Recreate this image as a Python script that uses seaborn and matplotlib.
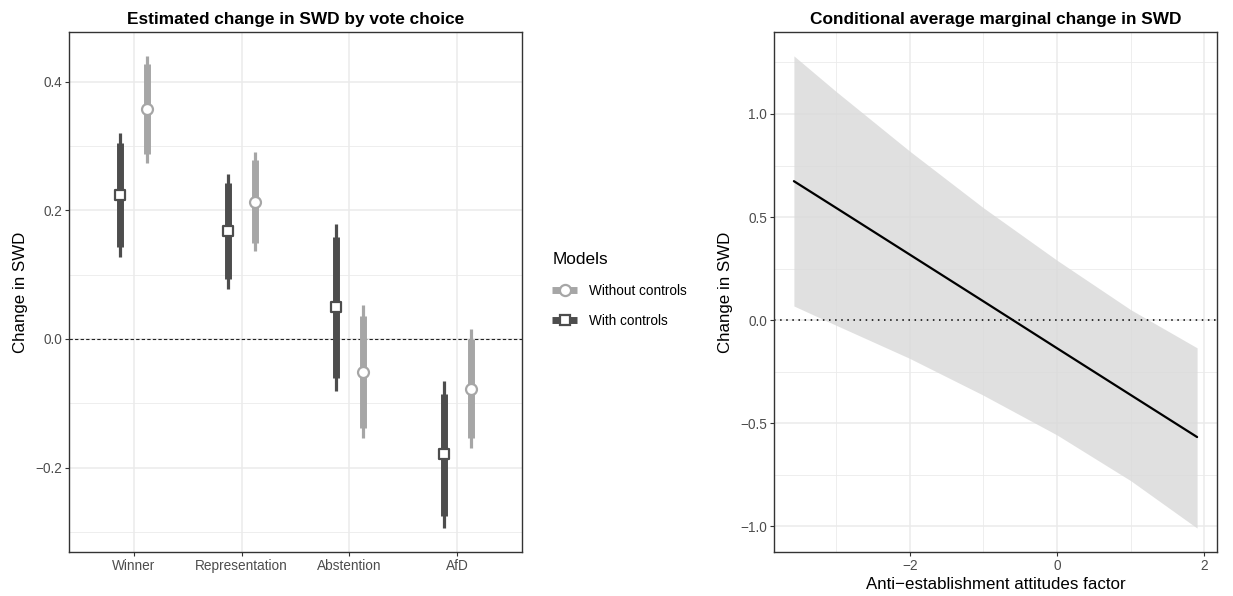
import numpy as np
import pandas as pd
import seaborn as sns
import matplotlib.pyplot as plt
from matplotlib.lines import Line2D

# left panel: estimates by vote choice
categories = ['Winner', 'Representation', 'Abstention', 'AfD']
models = ['With controls', 'Without controls']

est_with = [0.224, 0.168, 0.049, -0.179]
thick_lo_with = [0.143, 0.093, -0.061, -0.275]
thick_hi_with = [0.305, 0.242, 0.158, -0.085]
thin_lo_with = [0.128, 0.078, -0.081, -0.294]
thin_hi_with = [0.320, 0.256, 0.179, -0.065]

est_without = [0.357, 0.213, -0.051, -0.077]
thick_lo_without = [0.287, 0.149, -0.138, -0.154]
thick_hi_without = [0.427, 0.278, 0.036, 0.000]
thin_lo_without = [0.274, 0.136, -0.154, -0.169]
thin_hi_without = [0.440, 0.290, 0.053, 0.016]

# right panel: marginal effect over anti-establishment factor
ae_x = [-3.57, -3.0, -2.0, -1.0, 0.0, 1.0, 1.9]
ae_est = [0.674, 0.545, 0.318, 0.091, -0.137, -0.364, -0.568]
ae_lo = [0.068, -0.025, -0.186, -0.365, -0.558, -0.780, -1.010]
ae_hi = [1.282, 1.110, 0.820, 0.545, 0.290, 0.050, -0.135]

DARK = '#4d4d4d'
LIGHT = '#a6a6a6'
GRID = '#ebebeb'

sns.set_theme(style='white')
plt.rcParams['font.family'] = ['Liberation Sans', 'DejaVu Sans']
plt.rcParams['text.color'] = 'black'
plt.rcParams['axes.labelcolor'] = 'black'

fig = plt.figure(figsize=(12.33, 5.96), dpi=100)
ax1 = fig.add_axes([69 / 1233, 44 / 596, 453 / 1233, 520 / 596])
ax2 = fig.add_axes([774 / 1233, 44 / 596, 443 / 1233, 520 / 596])


def style_axis(ax):
    for sp in ax.spines.values():
        sp.set_color('#333333')
        sp.set_linewidth(1.0)
    ax.tick_params(axis='both', which='major', length=3, width=0.8, color='#333333',
                   labelcolor=DARK, labelsize=9.8, direction='out', bottom=True, left=True,
                   pad=2)
    ax.tick_params(which='minor', length=0)
    ax.grid(True, which='major', color=GRID, linewidth=1.1, zorder=0)
    ax.grid(True, which='minor', color=GRID, linewidth=0.6, zorder=0)
    ax.set_axisbelow(True)


rows = []
for i, c in enumerate(categories):
    rows.append(dict(cat=c, model='With controls', est=est_with[i],
                     tlo=thick_lo_with[i], thi=thick_hi_with[i],
                     nlo=thin_lo_with[i], nhi=thin_hi_with[i]))
    rows.append(dict(cat=c, model='Without controls', est=est_without[i],
                     tlo=thick_lo_without[i], thi=thick_hi_without[i],
                     nlo=thin_lo_without[i], nhi=thin_hi_without[i]))
df = pd.DataFrame(rows)
offset = {'With controls': -0.125, 'Without controls': 0.125}
df['xpos'] = df['cat'].map({c: i for i, c in enumerate(categories)}) + df['model'].map(offset)

style_axis(ax1)
ax1.axhline(0, color='#222222', linestyle=(0, (3, 2)), linewidth=0.8, zorder=1)
for model, color, marker in [('With controls', DARK, 's'), ('Without controls', LIGHT, 'o')]:
    sub = df[df.model == model]
    ax1.vlines(sub.xpos, sub.nlo, sub.nhi, color=color, linewidth=2.3, zorder=2)
    ax1.vlines(sub.xpos, sub.tlo, sub.thi, color=color, linewidth=5, zorder=3)
    sns.scatterplot(data=sub, x='xpos', y='est', ax=ax1, marker=marker, s=62,
                    color='white', edgecolor=color, linewidth=1.6, zorder=4, legend=False)

ax1.set_xlim(-0.6, 3.6)
ax1.set_ylim(-0.331, 0.477)
ax1.set_xticks(range(len(categories)))
ax1.set_xticklabels(categories)
ax1.set_yticks([-0.2, 0.0, 0.2, 0.4])
ax1.set_yticks([-0.3, -0.1, 0.1, 0.3], minor=True)
ax1.set_yticklabels(['\u22120.2', '0.0', '0.2', '0.4'])
ax1.set_xlabel('')
ax1.set_ylabel('Change in SWD', fontsize=12.2, labelpad=5)
ax1.set_title('Estimated change in SWD by vote choice', fontsize=12.4,
              fontweight='bold', pad=6)

# right panel
style_axis(ax2)
ae = pd.DataFrame({'x': ae_x, 'est': ae_est, 'lo': ae_lo, 'hi': ae_hi})
ax2.fill_between(ae.x, ae.lo, ae.hi, color='#d9d9d9', alpha=0.8, linewidth=0, zorder=1)
ax2.axhline(0, color='black', linestyle=(0, (1, 3)), linewidth=1.1, zorder=2)
sns.lineplot(data=ae, x='x', y='est', ax=ax2, color='black', linewidth=1.6, zorder=3)
ax2.set_xlim(-3.84, 2.17)
ax2.set_ylim(-1.126, 1.398)
ax2.set_xticks([-2, 0, 2])
ax2.set_xticks([-3, -1, 1], minor=True)
ax2.set_yticks([-1.0, -0.5, 0.0, 0.5, 1.0])
ax2.set_yticks([-0.75, -0.25, 0.25, 0.75, 1.25], minor=True)
ax2.set_yticklabels(['\u22121.0', '\u22120.5', '0.0', '0.5', '1.0'])
ax2.set_xticklabels(['\u22122', '0', '2'])
ax2.set_xlabel('Anti\u2212establishment attitudes factor', fontsize=12.2, labelpad=3)
ax2.set_ylabel('Change in SWD', fontsize=12.2, labelpad=5)
ax2.set_title('Conditional average marginal change in SWD', fontsize=12.4,
              fontweight='bold', pad=6)

handles = [
    Line2D([], [], color=LIGHT, linewidth=5, marker='o', markersize=8,
           markerfacecolor='white', markeredgecolor=LIGHT, markeredgewidth=1.6,
           solid_capstyle='butt'),
    Line2D([], [], color=DARK, linewidth=5, marker='s', markersize=7.5,
           markerfacecolor='white', markeredgecolor=DARK, markeredgewidth=1.6,
           solid_capstyle='butt'),
]
leg = fig.legend(handles, ['Without controls', 'With controls'], title='Models',
                 loc='upper left', bbox_to_anchor=(540 / 1233, 1 - 240 / 596),
                 frameon=False, fontsize=9.8, title_fontsize=12.4, handlelength=1.8,
                 labelspacing=1.2, handletextpad=0.9)
leg._legend_box.align = 'left'

fig.savefig('out.png', dpi=100)
